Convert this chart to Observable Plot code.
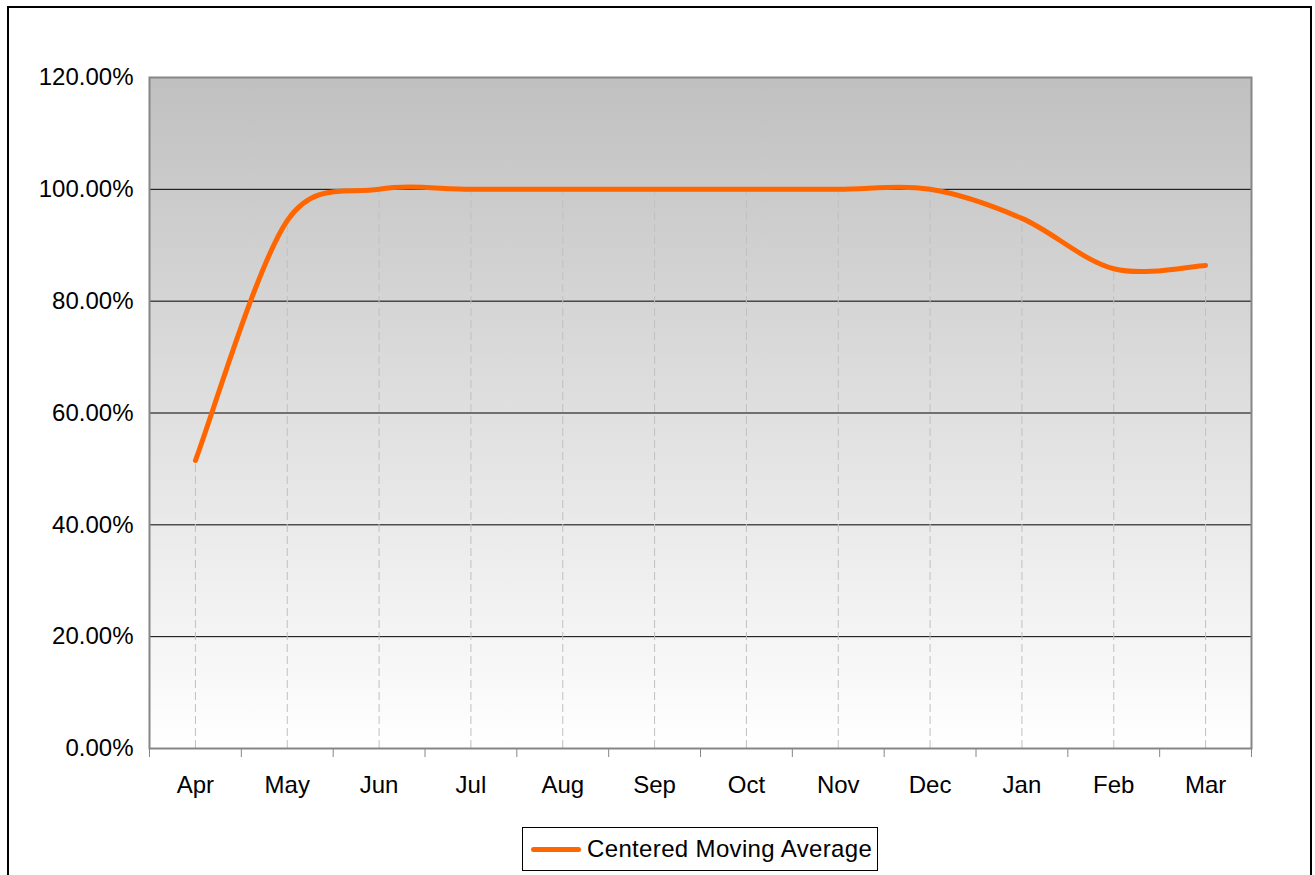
<!DOCTYPE html>
<html>
<head>
<meta charset="utf-8">
<script src="https://cdn.jsdelivr.net/npm/d3@7"></script>
<script src="https://cdn.jsdelivr.net/npm/@observablehq/plot@0.6"></script>
<style>
  html, body { margin: 0; padding: 0; background: #fff; overflow: hidden; }
  body { position: relative; width: 1315px; height: 875px; font-family: "Liberation Sans", Arial, sans-serif; }
  #outer { position: absolute; left: 7px; top: 6px; width: 1305px; height: 900px; border: 2px solid #000; box-sizing: border-box; pointer-events: none; }
  #chart svg { display: block; }
  #legend { margin-left: 522px; margin-top: 12px; width: 356px; height: 44px; border: 1px solid #000; box-sizing: border-box;
            display: flex; align-items: center; font-size: 24px; letter-spacing: 0.35px; color: #000; background: #fff; }
  #legend .swatch { width: 50px; height: 5px; background: #FF6600; border-radius: 3px; margin-left: 8px; margin-right: 6px; }
</style>
</head>
<body>
<div id="chart"></div>
<div id="legend"><div class="swatch"></div><span id="legendText"></span></div>
<div id="outer"></div>
<script>
const months = ["Apr", "May", "Jun", "Jul", "Aug", "Sep", "Oct", "Nov", "Dec", "Jan", "Feb", "Mar"];
const movingAverage = [51.5, 94.4, 100, 100, 100, 100, 100, 100, 100, 94.8, 85.8, 86.4];
const yTicks = [0, 20, 40, 60, 80, 100, 120];
const seriesName = "Centered Moving Average";

const data = months.map((m, i) => ({ i, month: m, value: movingAverage[i] }));

// Spreadsheet-style smoothed line: Bezier segments whose control handles
// are capped at half the segment length.
function SmoothCurve(context) { this._context = context; }
SmoothCurve.prototype = {
  areaStart() {}, areaEnd() {},
  lineStart() { this._pts = []; },
  point(x, y) { this._pts.push([+x, +y]); },
  lineEnd() {
    const p = this._pts, n = p.length, c = this._context;
    if (!n) return;
    c.moveTo(p[0][0], p[0][1]);
    const dist = (a, b) => Math.hypot(a[0] - b[0], a[1] - b[1]);
    for (let i = 0; i < n - 1; i++) {
      const p0 = p[Math.max(i - 1, 0)], p1 = p[i], p2 = p[i + 1], p3 = p[Math.min(i + 2, n - 1)];
      const d12 = dist(p1, p2), d02 = dist(p0, p2), d13 = dist(p1, p3);
      let f1 = 1 / 6, f2 = 1 / 6;
      if (d02 / 6 >= d12 / 2 && d02 > 0) f1 = d12 / (2 * d02);
      if (d13 / 6 >= d12 / 2 && d13 > 0) f2 = d12 / (2 * d13);
      const b1 = [p1[0] + f1 * (p2[0] - p0[0]), p1[1] + f1 * (p2[1] - p0[1])];
      const b2 = [p2[0] - f2 * (p3[0] - p1[0]), p2[1] - f2 * (p3[1] - p1[1])];
      c.bezierCurveTo(b1[0], b1[1], b2[0], b2[1], p2[0], p2[1]);
    }
  }
};
const smooth = (context) => new SmoothCurve(context);

function background(index, scales, values, dims) {
  const g = d3.create("svg:g");
  const grad = g.append("defs").append("linearGradient")
    .attr("id", "plotBg").attr("x1", 0).attr("y1", 0).attr("x2", 0).attr("y2", 1);
  grad.append("stop").attr("offset", "0%").attr("stop-color", "#c0c0c0");
  grad.append("stop").attr("offset", "100%").attr("stop-color", "#ffffff");
  g.append("rect")
    .attr("x", dims.marginLeft)
    .attr("y", dims.marginTop)
    .attr("width", dims.width - dims.marginLeft - dims.marginRight)
    .attr("height", dims.height - dims.marginTop - dims.marginBottom)
    .attr("fill", "url(#plotBg)");
  return g.node();
}

const plot = Plot.plot({
  width: 1315,
  height: 815,
  marginLeft: 149,
  marginRight: 64,
  marginTop: 77,
  marginBottom: 67,
  x: { domain: [-0.5, months.length - 0.5] },
  y: { domain: [yTicks[0], yTicks[yTicks.length - 1]] },
  style: { fontFamily: "'Liberation Sans', Arial, sans-serif", fontSize: "24px", color: "#000", background: "transparent", overflow: "visible" },
  marks: [
    background,
    Plot.ruleY(yTicks.filter(t => t > 0 && t < 120), { stroke: "#000", strokeWidth: 1, strokeOpacity: 1 }),
    Plot.ruleX(data, { x: "i", y1: 0, y2: "value", stroke: "#c0c0c0", strokeWidth: 1, strokeDasharray: "8,4" }),
    Plot.line(data, { x: "i", y: "value", stroke: "#FF6600", strokeWidth: 5, curve: smooth, strokeLinecap: "round", strokeLinejoin: "round" }),
    Plot.frame({ stroke: "#868686", strokeWidth: 2, strokeOpacity: 1 }),
    Plot.axisY({ ticks: yTicks, tickFormat: d => d.toFixed(2) + "%", tickSize: 0, tickPadding: 16, fontSize: 24, label: null }),
    Plot.axisX({ ticks: d3.range(months.length), tickFormat: i => months[i], tickSize: 0, tickPadding: 27, fontSize: 24, label: null }),
    Plot.axisX({ ticks: d3.range(months.length + 1).map(i => i - 0.5), tickFormat: () => "", tickSize: 9, stroke: "#868686", strokeOpacity: 1, label: null })
  ]
});
document.getElementById("chart").appendChild(plot);
document.getElementById("legendText").textContent = seriesName;
</script>
</body>
</html>
